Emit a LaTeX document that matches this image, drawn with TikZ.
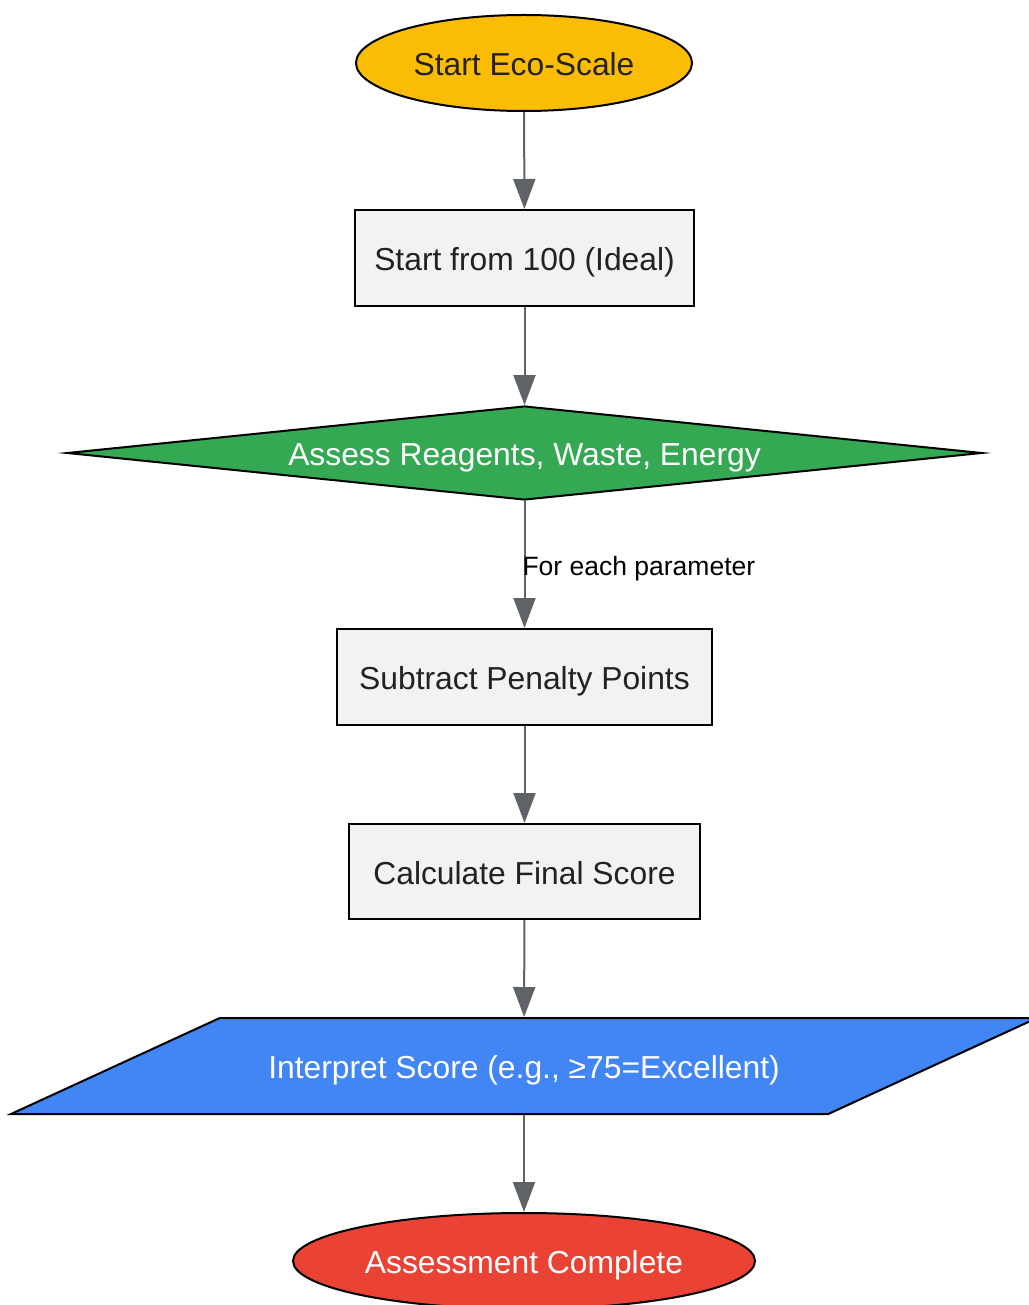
\documentclass[tikz,border=0pt]{standalone}
\usepackage{fontspec}
\setmainfont{Liberation Sans}
\usetikzlibrary{shapes.geometric,arrows.meta}

\definecolor{ecoYellow}{HTML}{FBBC04}
\definecolor{ecoGreen}{HTML}{34A853}
\definecolor{ecoBlue}{HTML}{4285F4}
\definecolor{ecoRed}{HTML}{EA4335}
\definecolor{boxGray}{HTML}{F1F2F4}
\definecolor{edgeGray}{HTML}{5F6368}
\definecolor{textDark}{HTML}{222222}

\begin{document}
\begin{tikzpicture}[x=1pt, y=-1pt,
    every node/.style={font=\fontsize{31.8}{36}\selectfont, inner sep=0pt, text height=25pt, text depth=0pt},
    stepbox/.style={draw=black, line width=2pt, fill=boxGray, text=textDark, rectangle},
    flow/.style={draw=edgeGray, line width=2pt, -{Triangle[length=30pt, width=22pt]}}]
            % Fix the canvas to the reference size
            \useasboundingbox (0,0) rectangle (1028,1305);

            % Define the nodes from top to bottom
            \node[draw=black, line width=2pt, fill=ecoYellow, text=textDark, ellipse,
                  minimum width=336pt, minimum height=96pt] (start) at (524,63) {Start Eco-Scale};
            \node[stepbox, minimum width=339pt, minimum height=96pt] (ideal) at (524.5,258) {Start from 100 (Ideal)};
            \node[draw=black, line width=2pt, fill=ecoGreen, text=white, diamond, aspect=9.7,
                  minimum width=915pt, minimum height=94pt] (assess) at (524.5,453) {Assess Reagents, Waste, Energy};
            \node[stepbox, minimum width=375pt, minimum height=96pt] (penalty) at (524.5,677) {Subtract Penalty Points};
            \node[stepbox, minimum width=351pt, minimum height=95pt] (score) at (524.5,871.5) {Calculate Final Score};
            \node[draw=black, line width=2pt, fill=ecoBlue, text=white, trapezium, inner ysep=35.5pt,
                  trapezium left angle=24.7, trapezium right angle=155.3, trapezium stretches body=true,
                  minimum width=1026pt] (interpret) at (524,1066) {Interpret Score (e.g., ≥75=Excellent)};
            \node[draw=black, line width=2pt, fill=ecoRed, text=white, ellipse,
                  minimum width=462pt, minimum height=96pt] (done) at (524,1261) {Assessment Complete};

            % Connect the steps
            \draw[flow] (start) -- (ideal);
            \draw[flow] (ideal) -- (assess);
            \draw[flow] (assess) -- node[anchor=west, xshift=-3pt, text=black, text height=21pt,
                  font=\fontsize{26.5}{30}\selectfont] (each) {For each parameter} (penalty);
            \draw[flow] (penalty) -- (score);
            \draw[flow] (score) -- (interpret);
            \draw[flow] (interpret) -- (done);
        \end{tikzpicture}
\end{document}
